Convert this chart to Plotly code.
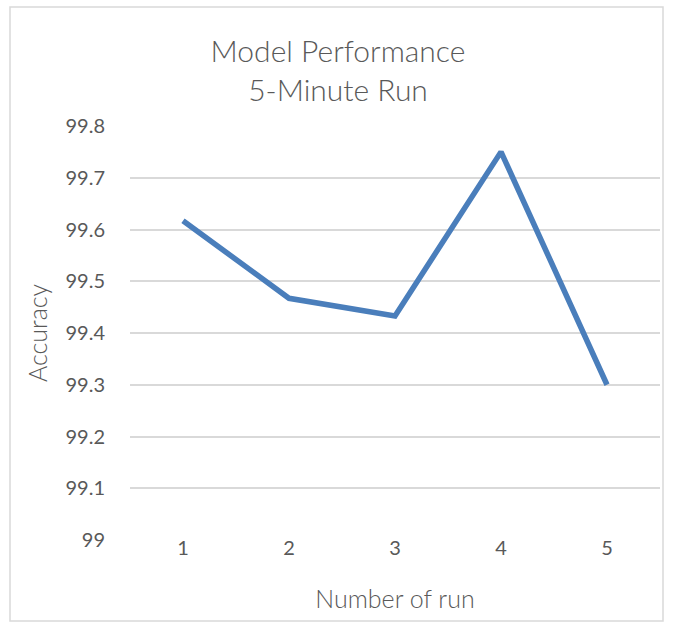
import plotly.graph_objects as go

runs = [1, 2, 3, 4, 5]
accuracy = [99.617, 99.467, 99.433, 99.75, 99.3]
y_ticks = [99.0, 99.1, 99.2, 99.3, 99.4, 99.5, 99.6, 99.7, 99.8]
y_tick_text = ["99", "99.1", "99.2", "99.3", "99.4", "99.5", "99.6", "99.7", "99.8"]

W, H = 673, 625
L, R, T, B = 130, 13, 126, 85
pw = W - L - R
ph = H - T - B

FONT = "Lato"
GREY = "#595959"

fig = go.Figure()
fig.add_trace(go.Scatter(
    x=runs, y=accuracy, mode="lines",
    line=dict(color="#4a7ebb", width=5.5),
    hoverinfo="skip", showlegend=False,
))

fig.update_layout(
    width=W, height=H,
    margin=dict(l=L, r=R, t=T, b=B),
    paper_bgcolor="white", plot_bgcolor="white",
    font=dict(family=FONT, color=GREY),
    title=dict(
        text="Model Performance<br>5-Minute Run",
        x=(338) / W, xanchor="center",
        y=1 - 62 / H, yanchor="middle",
        font=dict(family=FONT, size=30, color=GREY, weight=300),
    ),
    xaxis=dict(
        range=[0.5, 5.5], tickvals=runs, ticktext=[str(r) for r in runs],
        showgrid=False, zeroline=False, showline=False,
        tickfont=dict(size=20, color=GREY, family=FONT, weight=400),
        ticks="", ticklabelstandoff=-6,
        title=dict(text="Number of run", standoff=32,
                   font=dict(size=25, color=GREY, family=FONT, weight=300)),
    ),
    yaxis=dict(
        range=[99.0, 99.8], tickvals=y_ticks, ticktext=y_tick_text,
        showgrid=True, gridcolor="#d9d9d9", gridwidth=1.5,
        zeroline=False, showline=False,
        tickfont=dict(size=20, color=GREY, family=FONT, weight=400),
        ticklabelstandoff=24,
        title=dict(text="Accuracy", standoff=10,
                   font=dict(size=25, color=GREY, family=FONT, weight=300)),
    ),
)

# outer chart border
fig.add_shape(
    type="rect", xref="paper", yref="paper",
    x0=(10 - L) / pw, x1=(663 - L) / pw,
    y0=(T + ph - 621) / ph, y1=(T + ph - 7) / ph,
    line=dict(color="#d9d9d9", width=1.5), fillcolor="rgba(0,0,0,0)",
    layer="below",
)

fig.write_html("out.html")
